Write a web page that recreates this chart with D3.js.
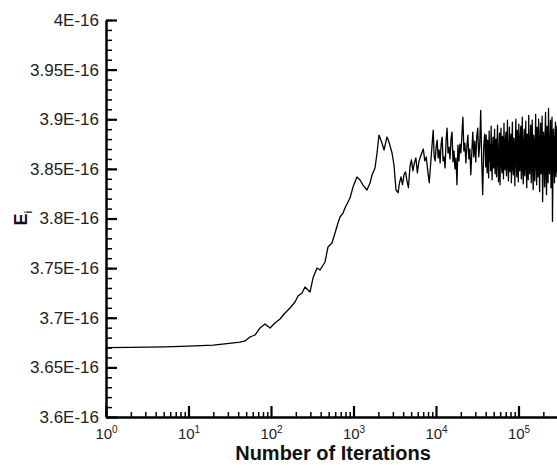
<!DOCTYPE html>
<html lang="en">
    <head>
        <meta charset="utf-8">
        <title>Ei vs Number of Iterations</title>
        <style>
            body {
                margin: 0;
                background-color: white;
                overflow: hidden;
            }
            svg {
                display: block;
                font-family: "Liberation Sans", Arial, sans-serif;
            }
        </style>
        <script src="https://d3js.org/d3.v7.min.js"></script>
    </head>
    <body></body>
    <script>

        // log10 of the iteration count
        const iterExp = [
            0, 0.29, 0.715, 1.0, 1.30, 1.467, 1.624, 1.685, 1.745, 1.806,
            1.867, 1.927, 1.988, 2.048, 2.109, 2.170, 2.230, 2.291, 2.327, 2.376,
            2.412, 2.473, 2.509, 2.558, 2.594, 2.655, 2.691, 2.739, 2.776, 2.812,
            2.836, 2.873, 2.897, 2.933, 2.958, 2.994, 3.042, 3.079, 3.115, 3.164,
            3.200, 3.224, 3.261, 3.285, 3.309, 3.345, 3.370, 3.406, 3.430, 3.467,
            3.491, 3.515,
            3.540, 3.558, 3.576, 3.594, 3.612, 3.630, 3.648, 3.666, 3.684, 3.702,
            3.720, 3.738, 3.756, 3.774, 3.792, 3.810, 3.828, 3.846, 3.864, 3.882,
            3.900, 3.918, 3.936, 3.954, 3.966, 3.978, 3.990,
            4.002, 4.014, 4.026, 4.038, 4.050, 4.062, 4.074, 4.086, 4.098, 4.110,
            4.122, 4.134, 4.146, 4.158, 4.170, 4.182, 4.194, 4.206, 4.218, 4.230,
            4.242, 4.254, 4.266, 4.278, 4.290, 4.302, 4.314, 4.326, 4.338, 4.350,
            4.362, 4.374, 4.386, 4.398, 4.410, 4.422, 4.434, 4.446, 4.458, 4.470,
            4.482, 4.494, 4.506, 4.518, 4.530, 4.542, 4.554, 4.566, 4.578, 4.590,
            4.602, 4.608, 4.614, 4.620, 4.626, 4.632, 4.638, 4.644, 4.650, 4.656,
            4.662, 4.668, 4.674, 4.680, 4.686, 4.692, 4.698, 4.704, 4.710, 4.716,
            4.722, 4.728, 4.734, 4.740, 4.746, 4.752, 4.758, 4.764, 4.770, 4.776,
            4.782, 4.788, 4.794, 4.800, 4.806, 4.812, 4.818, 4.824, 4.830, 4.836,
            4.842, 4.848, 4.854, 4.860, 4.866, 4.872, 4.878, 4.884, 4.890, 4.896,
            4.902, 4.908, 4.914, 4.920, 4.926, 4.932, 4.938, 4.944, 4.950, 4.956,
            4.962, 4.968, 4.974, 4.980, 4.986, 4.992, 4.998, 5.004, 5.010, 5.016,
            5.022, 5.028, 5.034, 5.040, 5.046, 5.052, 5.058, 5.064, 5.070, 5.076,
            5.082, 5.088, 5.094, 5.100, 5.106, 5.112, 5.118, 5.124, 5.130, 5.136,
            5.142, 5.148, 5.154, 5.160, 5.166, 5.172, 5.178, 5.184, 5.190, 5.196,
            5.202, 5.208, 5.214, 5.220, 5.226, 5.232, 5.238, 5.244, 5.250, 5.256,
            5.262, 5.268, 5.274, 5.280, 5.286, 5.292, 5.298, 5.304, 5.310, 5.316,
            5.322, 5.328, 5.334, 5.340, 5.346, 5.352, 5.358, 5.364, 5.370, 5.376,
            5.382, 5.388, 5.394, 5.400, 5.406, 5.412, 5.418, 5.424, 5.430, 5.436,
            5.442, 5.448, 5.454, 5.460, 5.466, 5.472
        ]

        // Ei in units of 1E-16
        const energyE16 = [
            3.6698, 3.6702, 3.6707, 3.6715, 3.6725, 3.6740, 3.6755, 3.6766, 3.6806, 3.6826,
            3.6897, 3.6937, 3.6897, 3.6947, 3.6987, 3.7048, 3.7098, 3.7159, 3.7219, 3.7249,
            3.7310, 3.7259, 3.7400, 3.7501, 3.7481, 3.7562, 3.7713, 3.7753, 3.7854, 3.7955,
            3.8015, 3.8055, 3.8106, 3.8166, 3.8206, 3.8317, 3.8418, 3.8388, 3.8337, 3.8287,
            3.8357, 3.8438, 3.8509, 3.8660, 3.8841, 3.8761, 3.8690, 3.8821, 3.8771, 3.8660,
            3.8539, 3.8287,
            3.826, 3.836, 3.842, 3.834, 3.844, 3.847, 3.838, 3.831, 3.852, 3.859,
            3.848, 3.856, 3.861, 3.846, 3.857, 3.862, 3.866, 3.870, 3.858, 3.862,
            3.848, 3.836, 3.856, 3.876, 3.889, 3.862, 3.858,
            3.872, 3.879, 3.861, 3.869, 3.856, 3.875, 3.882, 3.858, 3.862, 3.851,
            3.878, 3.891, 3.866, 3.872, 3.860, 3.880, 3.887, 3.857, 3.868, 3.850,
            3.861, 3.834, 3.874, 3.858, 3.875, 3.866, 3.884, 3.902, 3.868, 3.876,
            3.856, 3.872, 3.884, 3.860, 3.870, 3.844, 3.866, 3.887, 3.862, 3.878,
            3.857, 3.883, 3.891, 3.862, 3.874, 3.909, 3.858, 3.824, 3.871, 3.885,
            3.852, 3.884, 3.861, 3.846, 3.879, 3.870, 3.841, 3.888, 3.858, 3.874,
            3.848, 3.893, 3.866, 3.839, 3.871, 3.882, 3.851, 3.862, 3.890, 3.845,
            3.868, 3.880, 3.842, 3.875, 3.894, 3.856, 3.837, 3.866, 3.886, 3.834,
            3.872, 3.891, 3.853, 3.846, 3.883, 3.868, 3.840, 3.896, 3.861, 3.849,
            3.878, 3.887, 3.843, 3.864, 3.899, 3.852, 3.838, 3.874, 3.892, 3.847,
            3.860, 3.885, 3.836, 3.869, 3.897, 3.850, 3.844, 3.881, 3.871, 3.833,
            3.876, 3.900, 3.855, 3.842, 3.889, 3.863, 3.837, 3.895, 3.858, 3.848,
            3.883, 3.893, 3.840, 3.867, 3.902, 3.846, 3.835, 3.878, 3.890, 3.843,
            3.862, 3.898, 3.851, 3.831, 3.885, 3.872, 3.839, 3.904, 3.856, 3.845,
            3.880, 3.894, 3.836, 3.866, 3.899, 3.848, 3.829, 3.884, 3.876, 3.838,
            3.870, 3.905, 3.852, 3.834, 3.892, 3.861, 3.842, 3.900, 3.857, 3.827,
            3.881, 3.896, 3.845, 3.863, 3.903, 3.817, 3.850, 3.887, 3.868, 3.832,
            3.884, 3.907, 3.840, 3.824, 3.893, 3.869, 3.836, 3.911, 3.855, 3.845,
            3.878, 3.899, 3.831, 3.858, 3.902, 3.797, 3.852, 3.890, 3.866, 3.836,
            3.880, 3.897, 3.842, 3.862, 3.893, 3.846
        ]

        const yMajorTicks = [3.6, 3.65, 3.7, 3.75, 3.8, 3.85, 3.9, 3.95, 4.0]
        const yTickLabels = ["3.6E-16", "3.65E-16", "3.7E-16", "3.75E-16", "3.8E-16",
                             "3.85E-16", "3.9E-16", "3.95E-16", "4E-16"]
        const xDecadeExps = [0, 1, 2, 3, 4, 5]
        const xTitle = "Number of Iterations"

        let width = 557
        let height = 469
        let plotLeft = 106
        let plotTop = 20
        let plotBottom = 417
        let decade = 82.5
        let svg, xScale, yScale

        let drawCanvas = () => {
            svg = d3.select("body")
                .append("svg")
                .attr("width", width)
                .attr("height", height)
        }

        let generateScales = () => {
            xScale = d3.scaleLog()
                .domain([1, 1e6])
                .range([plotLeft, plotLeft + 6 * decade])
            yScale = d3.scaleLinear()
                .domain([3.6, 4.0])
                .range([plotBottom, plotTop])
        }

        let generateAxes = () => {
            // y minor ticks
            let yMinor = d3.range(0, 41).map((i) => 3.6 + i * 0.01)
            svg.append("g")
                .attr("transform", `translate(${plotLeft},0)`)
                .call(d3.axisLeft(yScale).tickValues(yMinor).tickSize(-6).tickFormat(""))
                .call((g) => g.select(".domain").remove())
                .call((g) => g.selectAll("line").attr("stroke", "#000").attr("stroke-width", 1.5))

            // y major ticks + labels
            svg.append("g")
                .attr("id", "y-axis")
                .attr("transform", `translate(${plotLeft},0)`)
                .call(d3.axisLeft(yScale)
                    .tickValues(yMajorTicks)
                    .tickSizeInner(-11)
                    .tickSizeOuter(0)
                    .tickPadding(7)
                    .tickFormat((d, i) => yTickLabels[i]))
                .call((g) => g.select(".domain").attr("stroke", "#000").attr("stroke-width", 2.5))
                .call((g) => g.selectAll("line").attr("stroke", "#000").attr("stroke-width", 2.2))
                .call((g) => g.selectAll("text")
                    .attr("font-size", 17)
                    .attr("font-family", "'Liberation Sans', Arial, sans-serif")
                    .attr("fill", "#222"))

            // x minor ticks
            let xMinor = []
            xDecadeExps.forEach((e) => {
                for (let m = 2; m <= 9; m++) xMinor.push(m * Math.pow(10, e))
            })
            svg.append("g")
                .attr("transform", `translate(0,${plotBottom})`)
                .call(d3.axisBottom(xScale).tickValues(xMinor).tickSize(-5).tickFormat(""))
                .call((g) => g.select(".domain").remove())
                .call((g) => g.selectAll("line").attr("stroke", "#000").attr("stroke-width", 1.5))

            // x major ticks + 10^n labels
            let xAxis = svg.append("g")
                .attr("id", "x-axis")
                .attr("transform", `translate(0,${plotBottom})`)
                .call(d3.axisBottom(xScale)
                    .tickValues(xDecadeExps.map((e) => Math.pow(10, e)))
                    .tickSizeInner(-11)
                    .tickSizeOuter(0)
                    .tickPadding(6)
                    .tickFormat(""))
                .call((g) => g.select(".domain").attr("stroke", "#000").attr("stroke-width", 2.5))
                .call((g) => g.selectAll("line").attr("stroke", "#000").attr("stroke-width", 2.2))

            xAxis.selectAll(".tick text")
                .attr("font-size", 15)
                .attr("font-family", "'Liberation Sans', Arial, sans-serif")
                .attr("fill", "#222")
                .attr("dy", "1.05em")
                .each(function (d) {
                    let t = d3.select(this)
                    t.append("tspan").text("10")
                    t.append("tspan")
                        .attr("font-size", 10)
                        .attr("dy", "-0.55em")
                        .text(Math.round(Math.log10(d)))
                })

            svg.append("text")
                .attr("x", 333)
                .attr("y", 460)
                .attr("text-anchor", "middle")
                .attr("font-size", 20)
                .attr("font-weight", "bold")
                .attr("fill", "#111")
                .text(xTitle)

            let yTitle = svg.append("text")
                .attr("transform", "translate(27,218) rotate(-90)")
                .attr("text-anchor", "middle")
                .attr("font-size", 18)
                .attr("font-weight", "bold")
                .attr("fill", "#111")
            yTitle.append("tspan").text("E")
            yTitle.append("tspan")
                .attr("font-size", 10)
                .attr("dy", "0.5em")
                .text("i")
        }

        let generateLine = () => {
            let points = iterExp.map((e, i) => [Math.pow(10, e), energyE16[i]])
            let line = d3.line()
                .x((d) => xScale(d[0]))
                .y((d) => yScale(d[1]))
            svg.append("path")
                .datum(points)
                .attr("d", line)
                .attr("fill", "none")
                .attr("stroke", "#000")
                .attr("stroke-width", 1.3)
                .attr("stroke-linejoin", "round")
        }

        drawCanvas()
        generateScales()
        generateLine()
        generateAxes()
    </script>
</html>
